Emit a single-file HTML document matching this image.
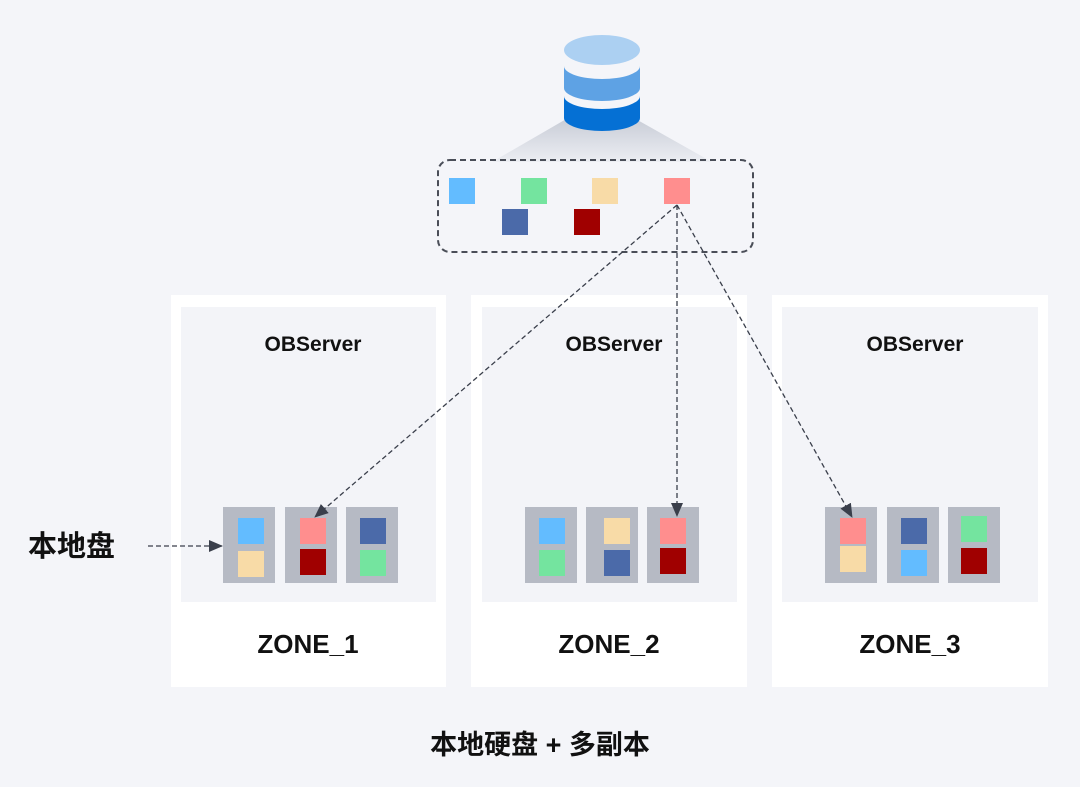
<!DOCTYPE html>
<html><head><meta charset="utf-8"><style>
body{margin:0;width:1080px;height:782px;background:#f4f5f9;font-family:"Liberation Sans","Noto Sans CJK SC",sans-serif;overflow:hidden}
</style></head><body>
<svg width="1080" height="782" xmlns="http://www.w3.org/2000/svg">
<defs>
<linearGradient id="sh" x1="0" y1="0" x2="0" y2="1"><stop offset="0" stop-color="#c8ccd6"/><stop offset="1" stop-color="#eceef3"/></linearGradient>
<marker id="ar" markerWidth="14" markerHeight="12" refX="13" refY="6" orient="auto" markerUnits="userSpaceOnUse"><path d="M0,0 L14,6 L0,12 z" fill="#3a3f4b"/></marker>
</defs>
<polygon points="568,118 634,118 712,162 492,162" fill="url(#sh)"/>
<path d="M564,96 v22 a38,13 0 0 0 76,0 v-22 a38,13 0 0 1 -76,0z" fill="#0570d4"/>
<path d="M564,66 v22 a38,13 0 0 0 76,0 v-22 a38,13 0 0 1 -76,0z" fill="#5ea2e4"/>
<ellipse cx="602" cy="50" rx="38" ry="15" fill="#acd0f2"/>
<rect x="438" y="160" width="315" height="92" rx="12" fill="none" stroke="#4a4e58" stroke-width="2" stroke-dasharray="6,4"/>
<rect x="449" y="178" width="26" height="26" fill="#63bcff"/>
<rect x="521" y="178" width="26" height="26" fill="#74e49f"/>
<rect x="592" y="178" width="26" height="26" fill="#f8dba7"/>
<rect x="664" y="178" width="26" height="26" fill="#ff8e8e"/>
<rect x="502" y="209" width="26" height="26" fill="#4b6aa9"/>
<rect x="574" y="209" width="26" height="26" fill="#a00000"/>
<g font-size="22" text-anchor="middle" fill="#111">
<rect x="171" y="295" width="275" height="392" fill="#fff"/><rect x="181" y="307" width="255" height="295" fill="#f3f4f8"/>
<text x="313" y="351" font-weight="bold" font-size="21">OBServer</text><text x="308" y="653" font-size="26" font-weight="bold">ZONE_1</text>
<rect x="471" y="295" width="276" height="392" fill="#fff"/><rect x="482" y="307" width="255" height="295" fill="#f3f4f8"/>
<text x="614" y="351" font-weight="bold" font-size="21">OBServer</text><text x="609" y="653" font-size="26" font-weight="bold">ZONE_2</text>
<rect x="772" y="295" width="276" height="392" fill="#fff"/><rect x="782" y="307" width="256" height="295" fill="#f3f4f8"/>
<text x="915" y="351" font-weight="bold" font-size="21">OBServer</text><text x="910" y="653" font-size="26" font-weight="bold">ZONE_3</text>
</g>
<g>
<rect x="223" y="507" width="52" height="76" fill="#b6bac4"/><rect x="238" y="518" width="26" height="26" fill="#63bcff"/><rect x="238" y="551" width="26" height="26" fill="#f8dba7"/>
<rect x="285" y="507" width="52" height="76" fill="#b6bac4"/><rect x="300" y="518" width="26" height="26" fill="#ff8e8e"/><rect x="300" y="549" width="26" height="26" fill="#a00000"/>
<rect x="346" y="507" width="52" height="76" fill="#b6bac4"/><rect x="360" y="518" width="26" height="26" fill="#4b6aa9"/><rect x="360" y="550" width="26" height="26" fill="#74e49f"/>
<rect x="525" y="507" width="52" height="76" fill="#b6bac4"/><rect x="539" y="518" width="26" height="26" fill="#63bcff"/><rect x="539" y="550" width="26" height="26" fill="#74e49f"/>
<rect x="586" y="507" width="52" height="76" fill="#b6bac4"/><rect x="604" y="518" width="26" height="26" fill="#f8dba7"/><rect x="604" y="550" width="26" height="26" fill="#4b6aa9"/>
<rect x="647" y="507" width="52" height="76" fill="#b6bac4"/><rect x="660" y="518" width="26" height="26" fill="#ff8e8e"/><rect x="660" y="548" width="26" height="26" fill="#a00000"/>
<rect x="825" y="507" width="52" height="76" fill="#b6bac4"/><rect x="840" y="518" width="26" height="26" fill="#ff8e8e"/><rect x="840" y="546" width="26" height="26" fill="#f8dba7"/>
<rect x="887" y="507" width="52" height="76" fill="#b6bac4"/><rect x="901" y="518" width="26" height="26" fill="#4b6aa9"/><rect x="901" y="550" width="26" height="26" fill="#63bcff"/>
<rect x="948" y="507" width="52" height="76" fill="#b6bac4"/><rect x="961" y="516" width="26" height="26" fill="#74e49f"/><rect x="961" y="548" width="26" height="26" fill="#a00000"/>
</g>
<g stroke="#3a3f4b" stroke-width="1.3" stroke-dasharray="5,3" fill="none" marker-end="url(#ar)">
<line x1="677" y1="205" x2="315" y2="517"/>
<line x1="677" y1="205" x2="677" y2="516"/>
<line x1="677" y1="205" x2="852" y2="517"/>
<line x1="148" y1="546" x2="222" y2="546"/>
</g>
<text x="28" y="556" font-size="29" font-weight="bold" fill="#111">本地盘</text>
<text x="540" y="754" font-size="27" font-weight="bold" fill="#111" text-anchor="middle">本地硬盘 + 多副本</text>
</svg>
</body></html>
